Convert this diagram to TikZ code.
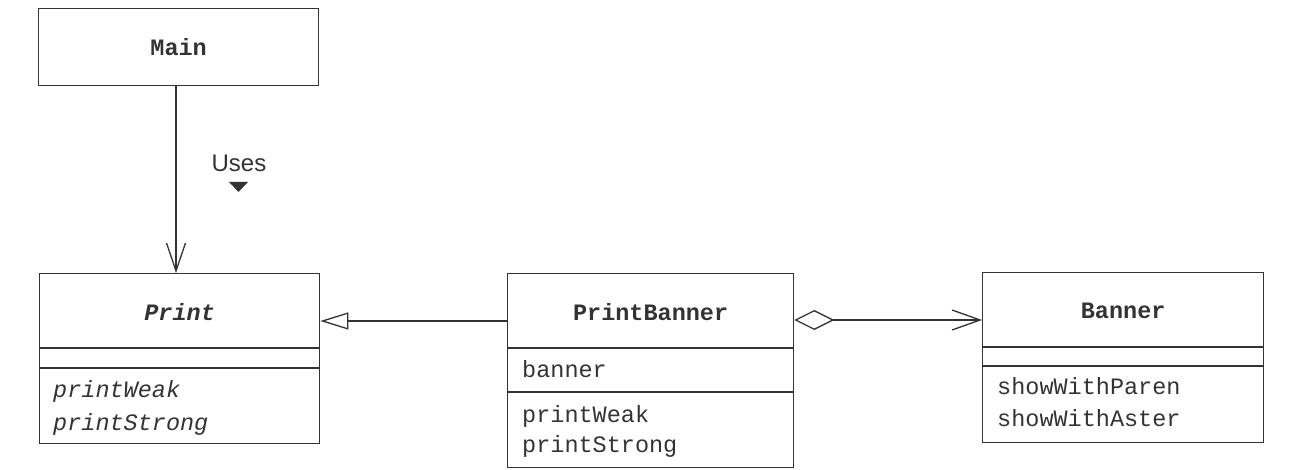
\documentclass[tikz,border=0pt]{standalone}
\usepackage{fontspec}
\setmonofont{Liberation Mono}
\setsansfont{Liberation Sans}
\usetikzlibrary{arrows.meta,calc}
\definecolor{ink}{HTML}{333333}
\begin{document}
\begin{tikzpicture}[x=1pt,y=-1pt,
  classbox/.style={draw=ink, line width=1.3pt, rectangle, inner sep=0pt, anchor=north west},
  cname/.style={font=\fontsize{23.5}{28}\selectfont\ttfamily\bfseries, text=ink, inner sep=0pt},
  member/.style={font=\fontsize{23.5}{28}\selectfont\ttfamily, text=ink, inner sep=0pt, anchor=base west},
  divider/.style={draw=ink, line width=1.3pt},
  conn/.style={draw=ink, line width=1.3pt}
]
\useasboundingbox (0,0) rectangle (1302,470);

% Main
\node[classbox, minimum width=280pt, minimum height=77pt] (main) at (38,8) {};
\node[cname] (mainname) at (main.center) {Main};

% Print
\node[classbox, minimum width=280pt, minimum height=170pt] (print) at (39,273) {};
\coordinate (pd1) at ($(print.north west)+(0,75)$);
\coordinate (pd2) at ($(print.north west)+(0,95)$);
\draw[divider] (pd1) -- (pd1 -| print.east);
\draw[divider] (pd2) -- (pd2 -| print.east);
\node[cname, font=\fontsize{23.5}{28}\selectfont\ttfamily\bfseries\itshape] (printname) at ($(print.north)+(0,39)$) {Print};
\node[member, font=\fontsize{23.5}{28}\selectfont\ttfamily\itshape] (pm1) at (53,398) {printWeak};
\node[member, font=\fontsize{23.5}{28}\selectfont\ttfamily\itshape] (pm2) at (53,431) {printStrong};

% PrintBanner
\node[classbox, minimum width=286pt, minimum height=194pt] (pb) at (507,273) {};
\coordinate (bd1) at ($(pb.north west)+(0,75)$);
\coordinate (bd2) at ($(pb.north west)+(0,119)$);
\draw[divider] (bd1) -- (bd1 -| pb.east);
\draw[divider] (bd2) -- (bd2 -| pb.east);
\node[cname] (pbname) at ($(pb.north)+(0,39)$) {PrintBanner};
\node[member] (pba) at (522,378) {banner};
\node[member] (pbm1) at (522,422) {printWeak};
\node[member] (pbm2) at (522,453) {printStrong};

% Banner
\node[classbox, minimum width=281pt, minimum height=170pt] (banner) at (982,272) {};
\coordinate (nd1) at ($(banner.north west)+(0,75)$);
\coordinate (nd2) at ($(banner.north west)+(0,94)$);
\draw[divider] (nd1) -- (nd1 -| banner.east);
\draw[divider] (nd2) -- (nd2 -| banner.east);
\node[cname] (bannername) at ($(banner.north)+(0,39)$) {Banner};
\node[member] (bm1) at (997,395) {showWithParen};
\node[member] (bm2) at (997,427) {showWithAster};

% Uses association
\draw[conn, -{Straight Barb[length=28pt, width=19pt, line width=1.3pt]}] (main.south -| 176,0) -- (print.north -| 176,0);
\node[font=\fontsize{24}{28}\selectfont\sffamily, text=ink, anchor=base, inner sep=0pt] (uses) at (239,172) {Uses};
\fill[ink] (229,182) -- (248,182) -- (238.5,192) -- cycle;

% Generalization
\coordinate (g1) at ($(pb.north west)+(0,48)$);
\draw[conn, -{Triangle[open, length=28pt, width=17pt, line width=1.3pt, fill=white]}] (g1) -- (g1 -| print.east);

% Aggregation
\coordinate (a1) at ($(pb.north east)+(0,47)$);
\draw[conn, {Diamond[open, length=40pt, width=20pt, line width=1.3pt, fill=white]}-{Straight Barb[length=28pt, width=20pt, line width=1.3pt]}] (a1) -- (a1 -| banner.west);
\end{tikzpicture}
\end{document}
